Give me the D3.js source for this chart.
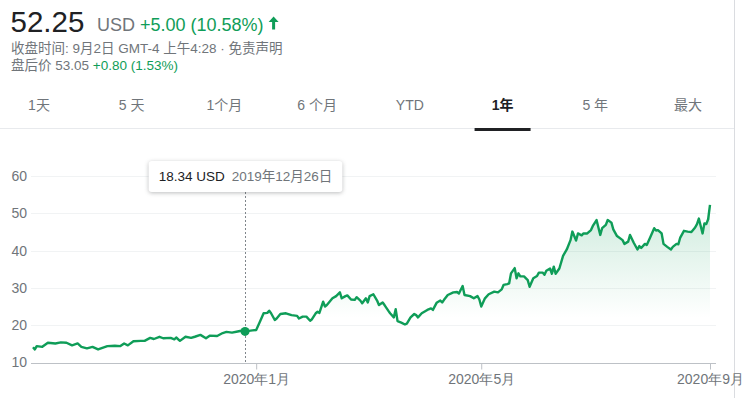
<!DOCTYPE html>
<html>
<head>
<meta charset="utf-8">
<script src="https://cdn.jsdelivr.net/npm/d3@7"></script>
<style>
  html, body { margin: 0; padding: 0; background: #fff; }
  svg { display: block; font-family: "Liberation Sans", Arial, "Noto Sans CJK SC", sans-serif; }
  .tip-box { filter: drop-shadow(0 1px 2px rgba(60,64,67,0.35)); }
</style>
</head>
<body>
<svg id="chart" width="750" height="398"></svg>
<script>
// quote header
const price = '52.25'
const change = '+5.00 (10.58%)'
const closeInfo = '收盘时间: 9月2日 GMT-4 上午4:28 · 免责声明'
const afterLabel = '盘后价 53.05'
const afterChange = '+0.80 (1.53%)'

// range tabs
const tabLabels = ['1天', '5 天', '1个月', '6 个月', 'YTD', '1年', '5 年', '最大']
const activeTab = '1年'

// axis ticks
const yTicks = [10, 20, 30, 40, 50, 60]
const xTicks = ['2020-01-01', '2020-05-01', '2020-09-01']

// hovered point
const hoverDate = '2019-12-26'

// closing prices
const dates = [
  '2019-09-03','2019-09-04','2019-09-05','2019-09-08','2019-09-11','2019-09-15','2019-09-18','2019-09-21',
  '2019-09-24','2019-09-27','2019-09-29','2019-10-02','2019-10-05','2019-10-08','2019-10-13','2019-10-17',
  '2019-10-20','2019-10-22','2019-10-24','2019-10-27','2019-10-31','2019-11-02','2019-11-05','2019-11-07',
  '2019-11-10','2019-11-12','2019-11-16','2019-11-18','2019-11-19','2019-11-21','2019-11-24','2019-11-27',
  '2019-11-29','2019-12-02','2019-12-05','2019-12-07','2019-12-11','2019-12-14','2019-12-16','2019-12-19',
  '2019-12-22','2019-12-24','2019-12-26','2019-12-30','2020-01-01','2020-01-03','2020-01-05','2020-01-07',
  '2020-01-08','2020-01-09','2020-01-11','2020-01-12','2020-01-14','2020-01-17','2020-01-20','2020-01-23',
  '2020-01-24','2020-01-26','2020-01-28','2020-01-30','2020-01-31','2020-02-02','2020-02-03','2020-02-04',
  '2020-02-06','2020-02-07','2020-02-08','2020-02-11','2020-02-13','2020-02-15','2020-02-16','2020-02-18',
  '2020-02-19','2020-02-21','2020-02-23','2020-02-24','2020-02-26','2020-02-27','2020-02-29','2020-03-01',
  '2020-03-02','2020-03-04','2020-03-06','2020-03-07','2020-03-09','2020-03-10','2020-03-12','2020-03-13',
  '2020-03-15','2020-03-16','2020-03-17','2020-03-19','2020-03-21','2020-03-22','2020-03-24','2020-03-26',
  '2020-03-27','2020-03-28','2020-03-30','2020-04-02','2020-04-04','2020-04-05','2020-04-07','2020-04-09',
  '2020-04-10','2020-04-11','2020-04-13','2020-04-16','2020-04-18','2020-04-19','2020-04-21','2020-04-22',
  '2020-04-25','2020-04-27','2020-04-29','2020-04-30','2020-05-01','2020-05-03','2020-05-05','2020-05-08',
  '2020-05-10','2020-05-12','2020-05-13','2020-05-15','2020-05-16','2020-05-17','2020-05-19','2020-05-20',
  '2020-05-21','2020-05-22','2020-05-24','2020-05-26','2020-05-27','2020-05-29','2020-05-31','2020-06-01',
  '2020-06-03','2020-06-04','2020-06-05','2020-06-07','2020-06-08','2020-06-09','2020-06-10','2020-06-12',
  '2020-06-14','2020-06-16','2020-06-18','2020-06-19','2020-06-21','2020-06-22','2020-06-24','2020-06-25',
  '2020-06-27','2020-06-29','2020-06-30','2020-07-02','2020-07-04','2020-07-05','2020-07-07','2020-07-08',
  '2020-07-10','2020-07-11','2020-07-13','2020-07-16','2020-07-17','2020-07-19','2020-07-20','2020-07-22',
  '2020-07-24','2020-07-25','2020-07-26','2020-07-28','2020-07-29','2020-07-31','2020-08-02','2020-08-03',
  '2020-08-04','2020-08-06','2020-08-07','2020-08-09','2020-08-11','2020-08-12','2020-08-14','2020-08-15',
  '2020-08-16','2020-08-18','2020-08-20','2020-08-22','2020-08-24','2020-08-25','2020-08-26','2020-08-28',
  '2020-08-29','2020-08-30','2020-08-31','2020-09-01'
]
const prices = [
  14.1, 13.5, 14.4, 14.2, 15.3, 15.1, 15.4, 15.3,
  14.6, 15.1, 14.2, 13.8, 14.2, 13.5, 14.4, 14.5,
  14.4, 15.1, 14.6, 15.7, 15.8, 15.8, 16.6, 16.3,
  16.9, 16.5, 16.6, 16.2, 16.7, 15.8, 16.9, 16.6,
  16.9, 17.4, 16.5, 17.2, 17.1, 17.9, 18.2, 18.0,
  18.3, 18.5, 18.34, 18.6, 18.7, 20.9, 23.2, 23.3,
  23.9, 23.2, 21.4, 21.8, 23.0, 23.2, 22.7, 22.5,
  21.8, 22.3, 22.3, 21.2, 21.6, 23.2, 23.6, 23.3,
  26.3, 25.0, 25.4, 27.2, 27.8, 28.8, 27.2, 27.8,
  28.0, 26.9, 26.8, 27.5, 26.6, 25.9, 27.2, 26.1,
  27.8, 28.3, 26.6, 25.4, 26.1, 25.4, 23.9, 23.2,
  22.1, 24.3, 21.1, 20.7, 20.2, 20.4, 22.1, 23.0,
  22.7, 22.1, 23.2, 24.1, 24.5, 24.1, 26.0, 26.6,
  26.1, 26.8, 28.1, 28.8, 28.9, 28.5, 30.5, 28.1,
  27.8, 27.2, 27.8, 26.9, 25.0, 27.2, 28.3, 29.0,
  28.8, 29.6, 30.8, 31.0, 31.2, 33.9, 35.3, 32.6,
  33.9, 33.1, 33.1, 32.1, 30.3, 32.6, 33.2, 34.1,
  34.1, 33.5, 34.6, 35.2, 33.8, 35.7, 33.8, 35.2,
  38.6, 40.3, 42.8, 45.1, 42.7, 44.6, 44.1, 44.6,
  44.6, 45.5, 46.6, 48.2, 44.2, 46.0, 46.9, 48.2,
  47.5, 45.7, 43.9, 42.8, 41.8, 42.4, 44.2, 42.1,
  40.3, 41.2, 40.7, 41.8, 41.5, 43.7, 46.0, 45.4,
  45.5, 44.6, 41.8, 41.0, 40.3, 41.0, 41.8, 41.7,
  43.5, 45.3, 45.1, 45.0, 46.2, 47.1, 48.6, 44.6,
  47.3, 47.1, 48.4, 52.25
]

const green = '#0f9d58'
const grey = '#70757a'
const dark = '#202124'

const parse = d3.timeParse('%Y-%m-%d')
const series = dates.map((d, i) => ({ date: parse(d), value: prices[i] }))

const svg = d3.select('#chart')

// Header //

const head = svg.append('g')
head.append('text')
  .attr('x', 10.5).attr('y', 32)
  .attr('font-size', 29.5).attr('fill', dark)
  .text(price)
const line1 = head.append('text')
  .attr('x', 97).attr('y', 31)
  .attr('font-size', 18)
line1.append('tspan').attr('fill', grey).text('USD ')
line1.append('tspan').attr('fill', green).text(change)
const l1w = line1.node().getComputedTextLength()
// up arrow
head.append('path')
  .attr('d', 'M5 0L10 5.5H6.5V13H3.5V5.5H0Z')
  .attr('fill', green)
  .attr('transform', 'translate(' + (97 + l1w + 5) + ',16.5)')

head.append('text')
  .attr('x', 11).attr('y', 53)
  .attr('font-size', 13.5).attr('fill', grey)
  .text(closeInfo)
const line3 = head.append('text')
  .attr('x', 11).attr('y', 70)
  .attr('font-size', 13.5)
line3.append('tspan').attr('fill', grey).text(afterLabel + ' ')
line3.append('tspan').attr('fill', green).text(afterChange)

// Tabs //

const panelRight = 734
const tabX = d3.scalePoint().domain(tabLabels).range([39, 688])
svg.append('line')
  .attr('x1', 0).attr('x2', panelRight)
  .attr('y1', 128.5).attr('y2', 128.5)
  .attr('stroke', '#e8eaed')
svg.append('line')
  .attr('x1', panelRight + 0.5).attr('x2', panelRight + 0.5)
  .attr('y1', 0).attr('y2', 398)
  .attr('stroke', '#dadce0')
svg.append('g')
  .selectAll('text')
  .data(tabLabels)
  .join('text')
    .attr('x', d => tabX(d))
    .attr('y', 110)
    .attr('text-anchor', 'middle')
    .attr('font-size', 14)
    .attr('font-weight', d => d === activeTab ? 'bold' : 'normal')
    .attr('fill', d => d === activeTab ? dark : grey)
    .text(d => d)
svg.append('rect')
  .attr('x', tabX(activeTab) - 28).attr('y', 128)
  .attr('width', 56).attr('height', 3)
  .attr('fill', dark)

// Chart //

const plot = { left: 31, right: 716 }
const x = d3.scaleTime()
  .domain(d3.extent(series, d => d.date))
  .range([33, 710])
const y = d3.scaleLinear()
  .domain([10, 60])
  .range([362.5, 176])

// grid
svg.append('g')
  .selectAll('line')
  .data(yTicks.slice(1))
  .join('line')
    .attr('x1', plot.left).attr('x2', plot.right)
    .attr('y1', d => Math.round(y(d)) + 0.5)
    .attr('y2', d => Math.round(y(d)) + 0.5)
    .attr('stroke', '#f1f3f4')

// y labels
svg.append('g')
  .attr('transform', 'translate(27,0)')
  .call(d3.axisLeft(y).tickValues(yTicks).tickSize(0).tickPadding(0))
  .call(g => g.select('.domain').remove())
  .call(g => g.selectAll('text')
    .attr('font-family', null)
    .attr('font-size', 14)
    .attr('fill', grey))

// x axis
svg.append('g')
  .attr('transform', 'translate(0,' + (Math.round(y(10)) + 0.5) + ')')
  .call(d3.axisBottom(x)
    .tickValues(xTicks.map(parse))
    .tickSize(6)
    .tickPadding(5)
    .tickFormat(d3.timeFormat('%Y年%-m月')))
  .call(g => g.select('.domain').remove())
  .call(g => g.selectAll('.tick line').attr('stroke', '#bdc1c6'))
  .call(g => g.selectAll('text')
    .attr('font-family', null)
    .attr('font-size', 14)
    .attr('fill', grey))
svg.append('line')
  .attr('x1', plot.left).attr('x2', plot.right)
  .attr('y1', Math.round(y(10)) + 0.5).attr('y2', Math.round(y(10)) + 0.5)
  .attr('stroke', '#bdc1c6')

// area gradient
const grad = svg.append('defs').append('linearGradient')
  .attr('id', 'areaFill')
  .attr('gradientUnits', 'userSpaceOnUse')
  .attr('x1', 0).attr('x2', 0)
  .attr('y1', y(52)).attr('y2', y(22))
grad.append('stop').attr('offset', 0).attr('stop-color', green).attr('stop-opacity', 0.2)
grad.append('stop').attr('offset', 1).attr('stop-color', green).attr('stop-opacity', 0)

svg.append('path')
  .datum(series)
  .attr('fill', 'url(#areaFill)')
  .attr('d', d3.area()
    .x(d => x(d.date))
    .y0(y(10))
    .y1(d => y(d.value)))

svg.append('path')
  .datum(series)
  .attr('fill', 'none')
  .attr('stroke', green)
  .attr('stroke-width', 2.4)
  .attr('stroke-linejoin', 'round')
  .attr('d', d3.line()
    .x(d => x(d.date))
    .y(d => y(d.value)))

// hover marker & tooltip
const hover = series.find(d => d3.timeFormat('%Y-%m-%d')(d.date) === hoverDate)
const hx = Math.round(x(hover.date)) + 0.5
const tipTop = 161, tipH = 31

svg.append('line')
  .attr('x1', hx).attr('x2', hx)
  .attr('y1', tipTop + tipH).attr('y2', y(10))
  .attr('stroke', '#80868b')
  .attr('stroke-dasharray', '2,2')
svg.append('circle')
  .attr('cx', x(hover.date)).attr('cy', y(hover.value))
  .attr('r', 4.5)
  .attr('fill', green)

const tip = svg.append('g')
const tipBox = tip.append('rect')
  .attr('class', 'tip-box')
  .attr('y', tipTop).attr('height', tipH)
  .attr('rx', 3)
  .attr('fill', '#fff')
const tipText = tip.append('text')
  .attr('y', tipTop + 20)
  .attr('font-size', 13.5)
tipText.append('tspan').attr('fill', dark).text(d3.format('.2f')(hover.value) + ' USD')
tipText.append('tspan').attr('fill', grey).attr('dx', 7).text(d3.timeFormat('%Y年%-m月%-d日')(hover.date))
const tw = tipText.node().getComputedTextLength() + 7
const boxW = tw + 20
tipBox.attr('x', hx - boxW / 2).attr('width', boxW)
tipText.attr('x', hx - boxW / 2 + 10)
</script>
</body>
</html>
